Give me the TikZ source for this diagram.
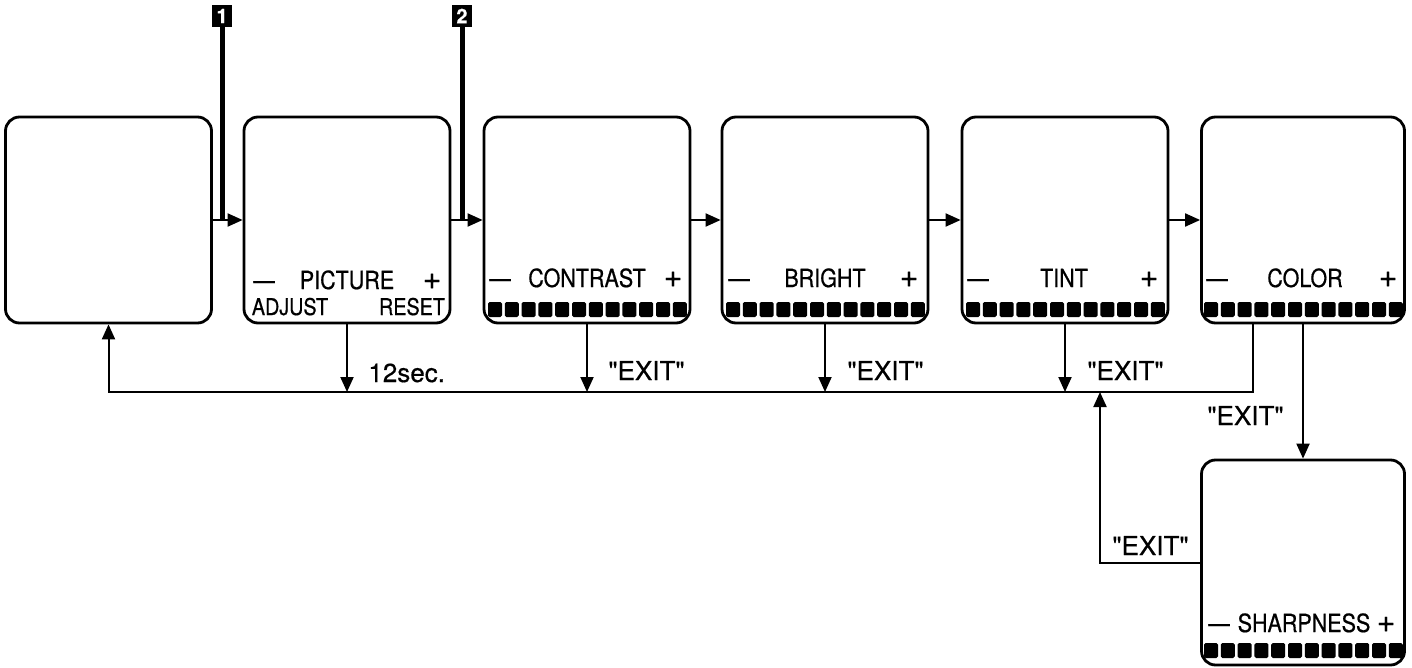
\documentclass[tikz,border=0pt]{standalone}
\usepackage{fontspec}
\setmainfont{TeX Gyre Heros}[FakeBold=0.5]
\newfontfamily\boxfont{TeX Gyre Heros}[FakeStretch=0.86,FakeBold=0.6]
\usetikzlibrary{arrows.meta,calc}
\newcommand{\qq}{\textquotedbl}
\begin{document}
\begin{tikzpicture}[x=0.5pt,y=-0.5pt,
  scr/.style={draw,line width=1.4pt,rounded corners=7pt,minimum width=103pt,minimum height=103pt,inner sep=0pt},
  conn/.style={line width=1pt},
  tip/.style={-{Triangle[length=7.5pt,width=6.5pt]}},
  btxt/.style={font=\boxfont\fontsize{12.5}{14}\selectfont,inner sep=0pt,anchor=base},
  btxts/.style={font=\boxfont\fontsize{11.5}{13}\selectfont,inner sep=0pt,anchor=base},
  bsym/.style={font=\fontsize{16}{16}\selectfont,inner sep=0pt,anchor=base},
  lbl/.style={font=\fontsize{13}{15}\selectfont,inner sep=0pt,anchor=base west},
  mk/.style={fill=black,text=white,font=\bfseries\fontsize{10}{10}\selectfont,minimum width=10pt,minimum height=11pt,inner sep=0pt},
  mline/.style={line width=2.5pt},
  sq/.style={fill=black,rounded corners=0.8pt}]
\useasboundingbox (0,0) rectangle (1412,668);
% screens
\node[scr] (b0) at (108.5,220) {};
\node[scr] (b1) at (347,220) {};
\node[scr] (b2) at (587,220) {};
\node[scr] (b3) at (825,220) {};
\node[scr] (b4) at (1065,220) {};
\node[scr,minimum width=101.5pt] (b5) at (1303,220) {};
\node[scr,minimum width=101.5pt,minimum height=102.5pt] (sh) at (1303,562.5) {};
% markers
\node[mk] (m1) at (222,16) {1};
\node[mk] (m2) at (462,16) {2};
\draw[mline] (m1.south) -- (m1.south |- b0.east);
\draw[mline] (m2.south) -- (m2.south |- b1.east);
% box texts
\node[btxt] (b1m) at (264,289) {—};
\node[btxt] (b1t) at (347,289) {PICTURE};
\node[bsym] (b1p) at (432,289) {+};
\node[btxts] (b1a) at (290,315) {ADJUST};
\node[btxts] (b1r) at (412,315) {RESET};
\node[btxt] (b2m) at (500,287) {—};
\node[btxt] (b2t) at (587,287) {CONTRAST};
\node[bsym] (b2p) at (673,287) {+};
\node[btxt] (b3m) at (739,287) {—};
\node[btxt] (b3t) at (825,287) {BRIGHT};
\node[bsym] (b3p) at (909,287) {+};
\node[btxt] (b4m) at (978,287) {—};
\node[btxt] (b4t) at (1064,287) {TINT};
\node[bsym] (b4p) at (1149,287) {+};
\node[btxt] (b5m) at (1217,287) {—};
\node[btxt] (b5t) at (1305,287) {COLOR};
\node[bsym] (b5p) at (1388,287) {+};
\node[btxt] (shm) at (1219,632) {—};
\node[btxt] (sht) at (1304,632) {SHARPNESS};
\node[bsym] (shp) at (1386,632) {+};
% level bars
\foreach \c in {587,825,1065,1303}
  \foreach \i in {0,...,11}
    \fill[sq] (\c-99+\i*16.8,302) rectangle ++(14,15);
\foreach \i in {0,...,11}
  \fill[sq] (1303-99+\i*16.8,643) rectangle ++(14,15);
% forward arrows
\draw[conn,tip] (b0.east) -- (b1.west);
\draw[conn,tip] (b1.east) -- (b2.west);
\draw[conn,tip] (b2.east) -- (b3.west);
\draw[conn,tip] (b3.east) -- (b4.west);
\draw[conn,tip] (b4.east) -- (b5.west);
% exit bus
\coordinate (busL) at (108.5,392);
\coordinate (xb) at (1100,392);
\draw[conn,tip] ([xshift=-25pt]b5.south) |- (busL) -- (b0.south);
\draw[conn,tip] (b1.south) -- (b1.south |- busL);
\draw[conn,tip] (b2.south) -- (b2.south |- busL);
\draw[conn,tip] (b3.south) -- (b3.south |- busL);
\draw[conn,tip] (b4.south) -- (b4.south |- busL);
\draw[conn,tip] (b5.south) -- (sh.north);
\draw[conn,tip] (sh.west) -| (xb);
% labels
\node[lbl] (l1) at (368,382) {12sec.};
\node[lbl] (l2) at (608,380) {\qq EXIT\qq};
\node[lbl] (l3) at (847,380) {\qq EXIT\qq};
\node[lbl] (l4) at (1087,380) {\qq EXIT\qq};
\node[lbl] (l5) at (1207,425) {\qq EXIT\qq};
\node[lbl] (l6) at (1112,555) {\qq EXIT\qq};
\end{tikzpicture}
\end{document}
